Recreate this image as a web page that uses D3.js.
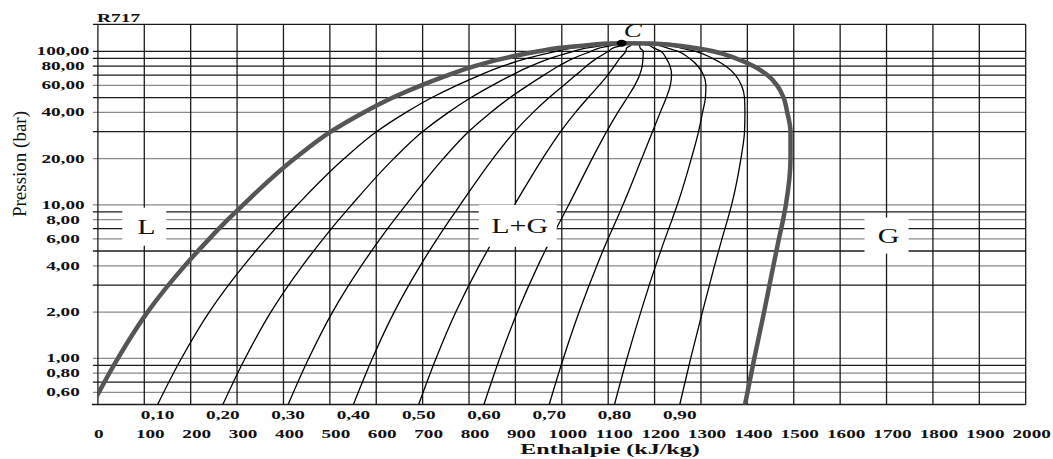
<!DOCTYPE html>
<html>
<head>
<meta charset="utf-8">
<script src="https://cdn.jsdelivr.net/npm/d3@7"></script>
<style>
  body { margin: 0; background: #fff; }
  text { font-family: "Liberation Serif", "Times New Roman", serif; fill: #111; }
</style>
</head>
<body>
<svg id="chart" width="1053" height="459"></svg>
<script>
"use strict";

// enthalpy axis (kJ/kg)
const enthalpyTicks = [0, 100, 200, 300, 400, 500, 600, 700, 800, 900, 1000,
    1100, 1200, 1300, 1400, 1500, 1600, 1700, 1800, 1900, 2000];
// pressure axis (bar, log)
const pressureGrid = [0.5, 0.6, 0.7, 0.8, 0.9, 1, 2, 3, 4, 5, 6, 7, 8, 9,
    10, 20, 30, 40, 50, 60, 70, 80, 90, 100, 150];
const pressureTicks = [0.6, 0.8, 1, 2, 4, 6, 8, 10, 20, 40, 60, 80, 100];
const pressureTickLabels = ["0,60", "0,80", "1,00", "2,00", "4,00", "6,00", "8,00",
    "10,00", "20,00", "40,00", "60,00", "80,00", "100,00"];
const greyLines = [0.6, 0.8, 1, 2, 4, 6, 8, 10, 20, 40, 60];

// saturation curve
const satPressure = [0.5, 1, 2, 4, 6, 8, 10, 20, 30, 40, 50, 60, 70, 80, 90, 100, 105, 110, 112.3];
const satLiquidH  = [-12, 43, 107, 187, 240, 280, 313, 424, 502, 573, 636, 697, 755, 812, 875, 950, 992, 1061, 1097];
const satVapourH  = [1395, 1415, 1436, 1456, 1468, 1477, 1483, 1493, 1493, 1486, 1478, 1464, 1443, 1414, 1375, 1326, 1287, 1238, 1194];
const criticalP = 112.8;
const criticalH = 1129;

// vapour quality lines
const qualities = [0.1, 0.2, 0.3, 0.4, 0.5, 0.6, 0.7, 0.8, 0.9];
const qualityLabels = ["0,10", "0,20", "0,30", "0,40", "0,50", "0,60", "0,70", "0,80", "0,90"];

// region names
const regionLabels = ["L", "L+G", "G"];
const regionH = [100, 905, 1700];
const regionP = [7.2, 7.3, 6.3];
const regionBox = [[44, 38], [78, 42], [44, 36]];

const SX = 1.6; // the source picture is stretched sideways

const svg = d3.select("#chart");
const x = d3.scaleLinear().domain([0, 2000]).range([97.9, 1025.7]);
const y = d3.scaleLog().domain([0.5, 150]).range([404.5, 24.3]);

svg.append("rect").attr("width", 1053).attr("height", 459).attr("fill", "#fff");

svg.append("clipPath").attr("id", "plot")
    .append("rect")
    .attr("x", x(0)).attr("y", y(150))
    .attr("width", x(2000) - x(0)).attr("height", y(0.5) - y(150));

// grid
svg.append("g").selectAll("line")
    .data(pressureGrid)
    .join("line")
    .attr("x1", d => d == 0.5 ? x(0) - 6 : x(0) - 5)
    .attr("x2", x(2000))
    .attr("y1", d => y(d)).attr("y2", d => y(d))
    .attr("stroke", d => greyLines.includes(d) ? "#8a8a8a" : "#1a1a1a")
    .attr("stroke-width", 1.3);

svg.append("g").selectAll("line")
    .data(enthalpyTicks)
    .join("line")
    .attr("x1", d => x(d)).attr("x2", d => x(d))
    .attr("y1", y(150)).attr("y2", y(0.5))
    .attr("stroke", "#1a1a1a")
    .attr("stroke-width", 1.3);

// every curve climbs in pressure, so a monotone-in-y spline keeps them smooth
const line = d3.line()
    .x(d => x(d[0]))
    .y(d => y(d[1]))
    .curve(d3.curveMonotoneY);

const curves = svg.append("g").attr("clip-path", "url(#plot)");

// quality lines
qualities.forEach(function(q) {
    let pts = satPressure.map((p, i) => [satLiquidH[i] + q * (satVapourH[i] - satLiquidH[i]), p]);
    pts.push([criticalH, criticalP]);
    curves.append("path")
        .attr("d", line(pts))
        .attr("fill", "none")
        .attr("stroke", "#000")
        .attr("stroke-width", 1.3);
});

// saturation dome, liquid and vapour branches
[satLiquidH, satVapourH].forEach(function(hs) {
    let pts = satPressure.map((p, i) => [hs[i], p]);
    pts.push([criticalH, criticalP]);
    curves.append("path")
        .attr("d", line(pts))
        .attr("fill", "none")
        .attr("stroke", "#555")
        .attr("stroke-width", 4.5)
        .attr("stroke-linecap", "round");
});

// critical point
svg.append("ellipse")
    .attr("cx", x(criticalH)).attr("cy", y(criticalP))
    .attr("rx", 5).attr("ry", 3.5)
    .attr("fill", "#000");
svg.append("text")
    .attr("transform", `translate(${x(criticalH) + 11},${y(criticalP) - 6}) scale(1.5,1)`)
    .attr("text-anchor", "middle")
    .style("font-style", "italic")
    .style("font-size", "18px")
    .text("C");

// region labels on white patches
regionLabels.forEach(function(lab, i) {
    let cx = x(regionH[i]), cy = y(regionP[i]);
    svg.append("rect")
        .attr("x", cx - regionBox[i][0] / 2).attr("y", cy - regionBox[i][1] / 2)
        .attr("width", regionBox[i][0]).attr("height", regionBox[i][1])
        .attr("fill", "#fff");
    svg.append("text")
        .attr("transform", `translate(${cx + 2},${cy + 7}) scale(1.5,1)`)
        .attr("text-anchor", "middle")
        .style("font-size", "20px")
        .text(lab);
});

// y tick labels
svg.append("g").selectAll("text")
    .data(pressureTicks)
    .join("text")
    .attr("transform", d => `translate(63,${y(d) + 4}) scale(${SX},1)`)
    .attr("text-anchor", "middle")
    .style("font-size", "12px")
    .style("font-weight", "bold")
    .text((d, i) => pressureTickLabels[i]);

// x tick labels
svg.append("g").selectAll("text")
    .data(enthalpyTicks)
    .join("text")
    .attr("transform", d => `translate(${x(d) + (d == 0 ? 1 : 6)},438) scale(${SX},1)`)
    .attr("text-anchor", "middle")
    .style("font-size", "12px")
    .style("font-weight", "bold")
    .text(d => d);

// quality labels, under the foot of each quality line
svg.append("g").selectAll("text")
    .data(qualities)
    .join("text")
    .attr("transform", q => `translate(${x(satLiquidH[0] + q * (satVapourH[0] - satLiquidH[0]))},419) scale(${SX},1)`)
    .attr("text-anchor", "middle")
    .style("font-size", "12px")
    .style("font-weight", "bold")
    .text((d, i) => qualityLabels[i]);

// titles
svg.append("text")
    .attr("transform", `translate(97,22) scale(1.5,1)`)
    .style("font-size", "13px")
    .style("font-weight", "bold")
    .text("R717");

svg.append("text")
    .attr("transform", `translate(610,454) scale(${SX},1)`)
    .attr("text-anchor", "middle")
    .style("font-size", "15px")
    .style("font-weight", "bold")
    .text("Enthalpie (kJ/kg)");

svg.append("text")
    .attr("transform", "translate(26,164) rotate(-90)")
    .attr("text-anchor", "middle")
    .style("font-size", "19px")
    .text("Pression (bar)");
</script>
</body>
</html>
